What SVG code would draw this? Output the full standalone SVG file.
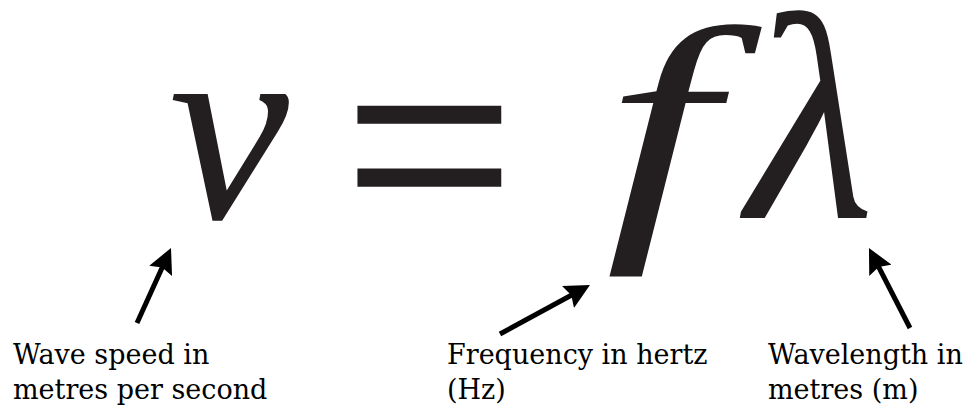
<svg xmlns="http://www.w3.org/2000/svg" width="975" height="415" viewBox="0 0 975 415">
<style>
.eq{font-family:"Liberation Serif",serif;font-style:italic;fill:#231f20}
.op{font-family:"Liberation Sans",Arial,sans-serif;fill:#231f20}
.lbl{font-family:"DejaVu Serif",serif;font-size:27px;fill:#000}
.arr{stroke:#000;stroke-width:5;fill:none;marker-end:url(#ah)}
</style>
<defs>
<marker id="ah" viewBox="0 0 10 10" refX="4" refY="5" markerWidth="5" markerHeight="5" markerUnits="strokeWidth" orient="auto">
<path d="M0,0 L10,5 L0,10 L1.5,5 Z" fill="#000"/>
</marker>
</defs>
<g id="formula">
<text class="eq" x="169" y="218" font-size="270">v</text>
<text class="op" font-size="296" transform="translate(343 229) scale(1 0.85)">=</text>
<text class="eq" font-size="275" transform="translate(605 218) scale(1.45 1)">f</text>
<text class="eq" x="747" y="218" font-size="295">λ</text>
</g>
<g id="connectors">
<line class="arr" x1="137" y1="323" x2="164.8" y2="261.7"/>
<line class="arr" x1="500" y1="334" x2="576.8" y2="292.2"/>
<line class="arr" x1="910" y1="328" x2="875.8" y2="261.4"/>
</g>
<g id="label-v"><text class="lbl" x="13" y="364">Wave speed in</text><text class="lbl" x="13" y="399">metres per second</text></g>
<g id="label-f"><text class="lbl" x="447" y="364">Frequency in hertz</text><text class="lbl" x="447" y="399">(Hz)</text></g>
<g id="label-lambda"><text class="lbl" x="768" y="364">Wavelength in</text><text class="lbl" x="768" y="399">metres (m)</text></g>
</svg>
